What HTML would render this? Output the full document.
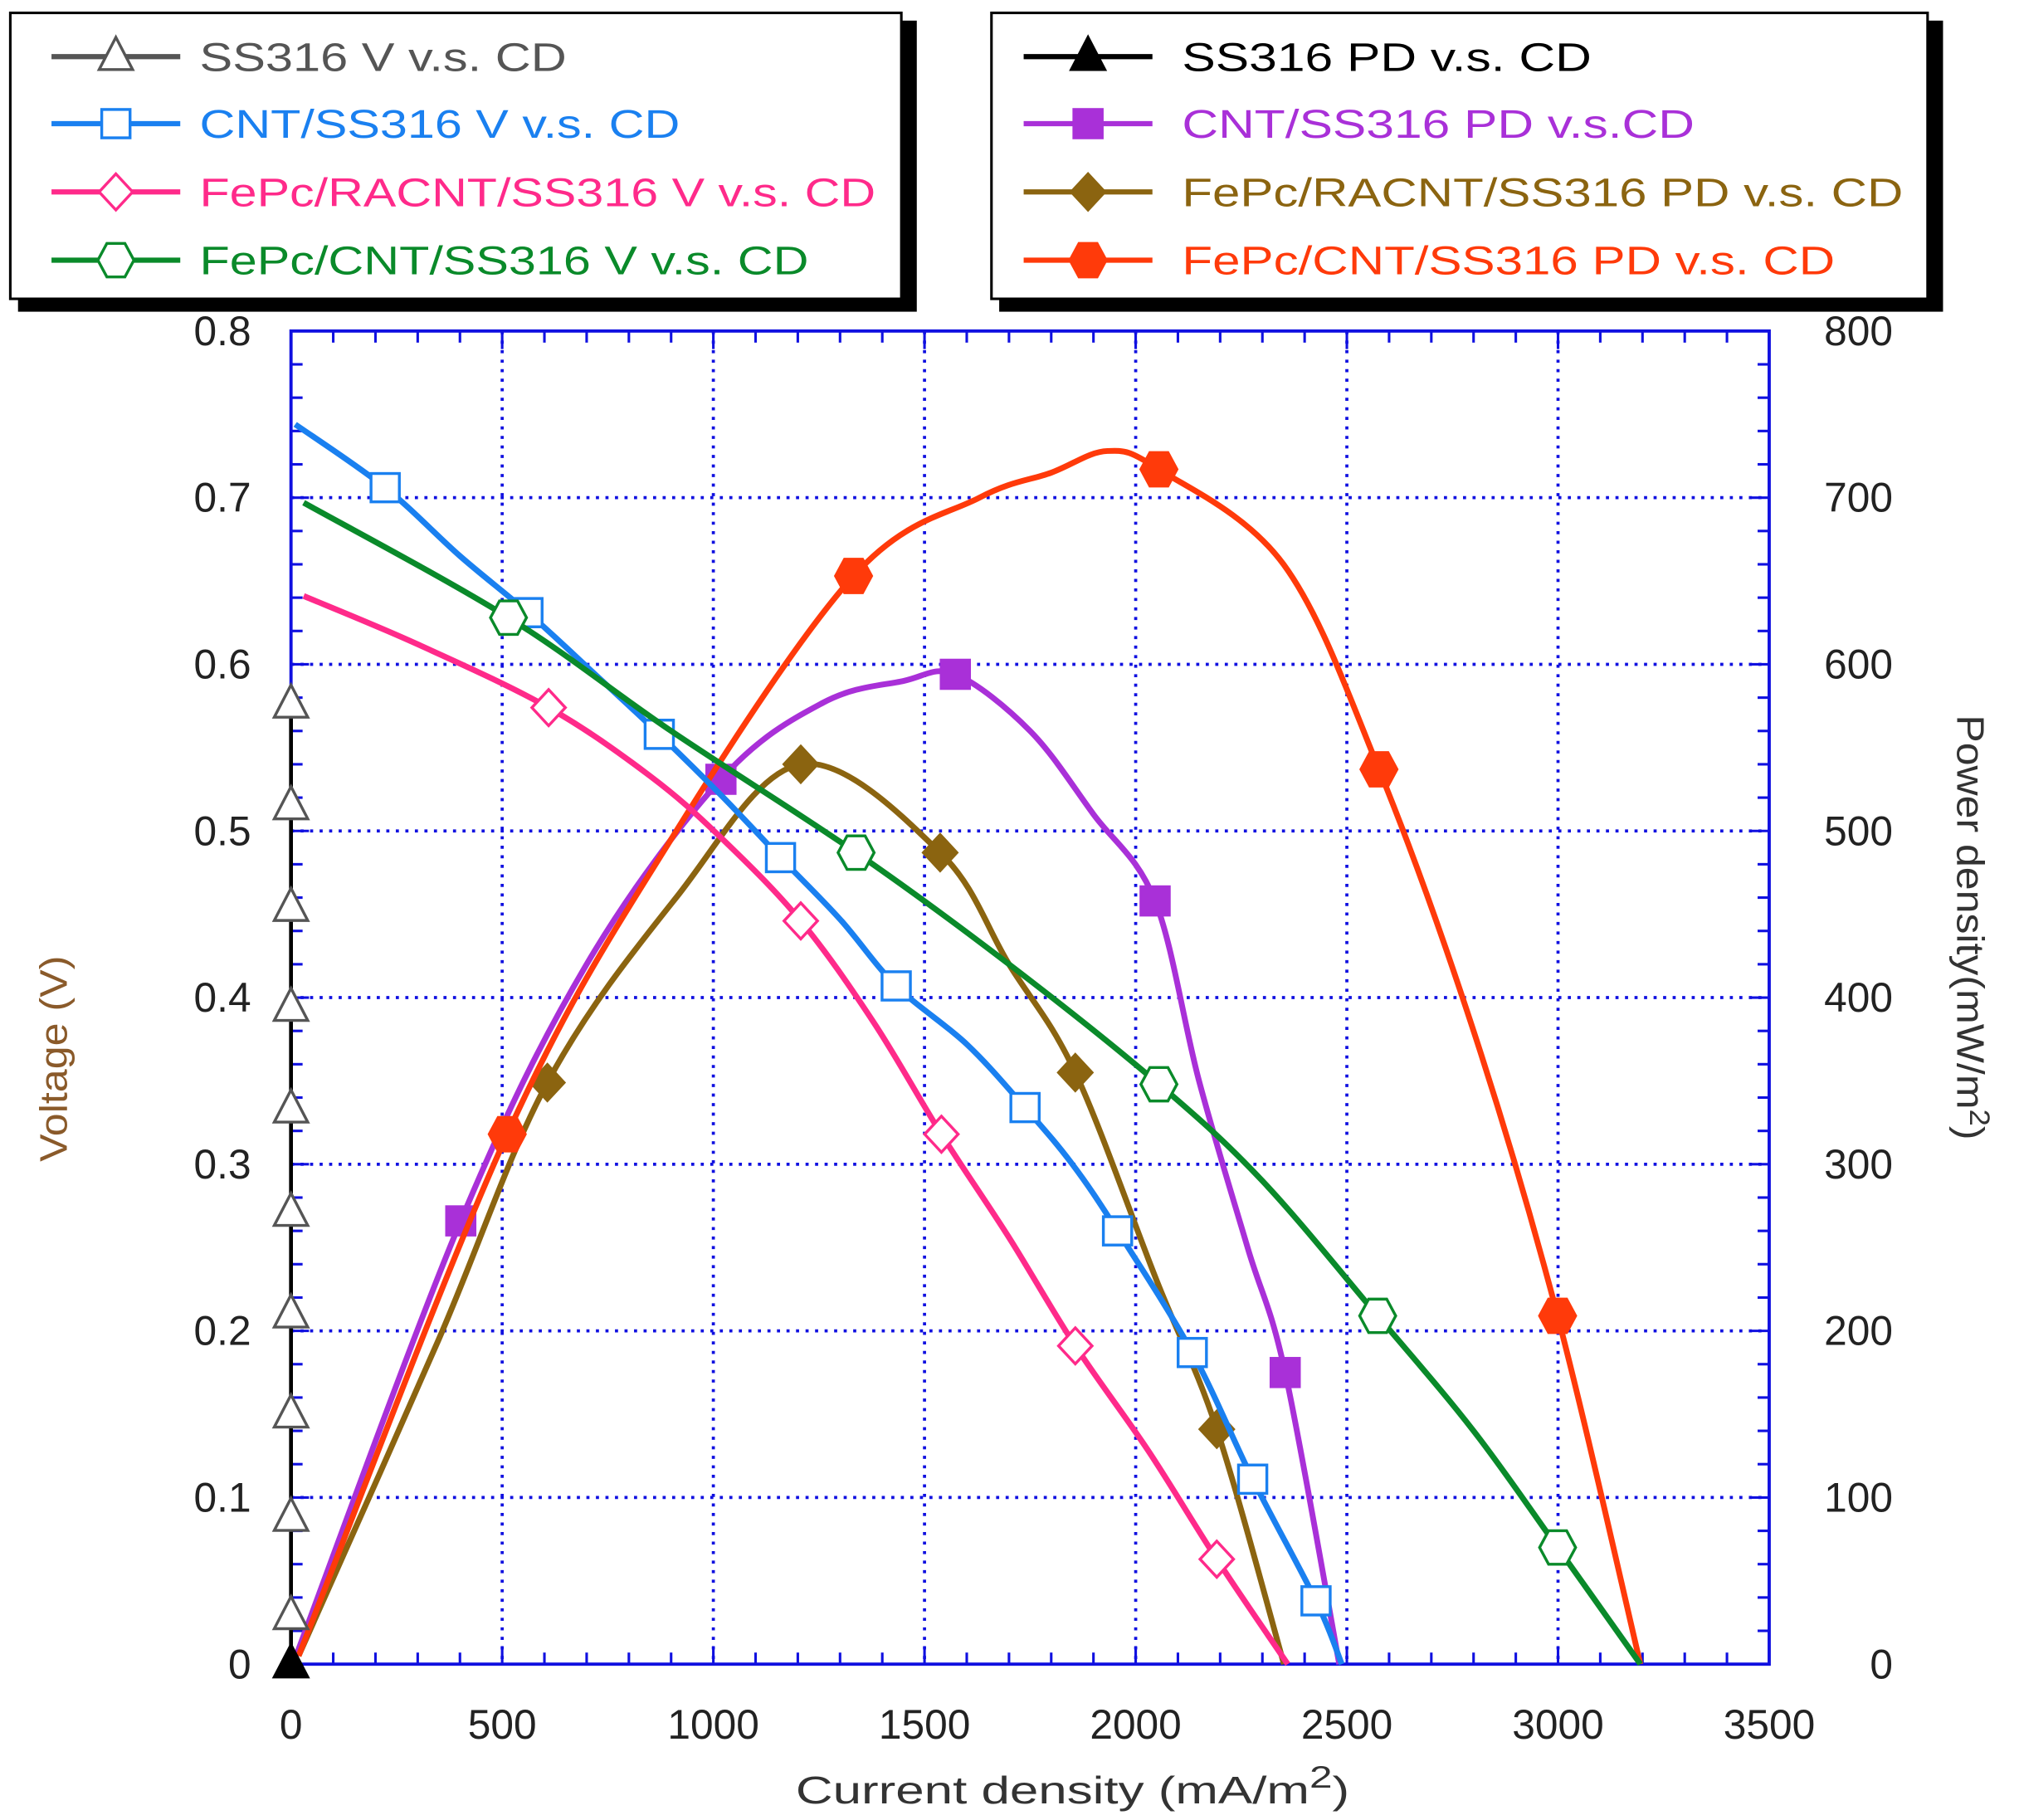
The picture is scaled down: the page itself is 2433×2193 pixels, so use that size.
<!DOCTYPE html>
<html><head><meta charset="utf-8"><style>
html,body{margin:0;padding:0;background:#fff;}
svg{display:block;font-family:"Liberation Sans",sans-serif;}
</style></head><body>
<svg id="chart" width="2433" height="2193" viewBox="0 0 1568 1413" preserveAspectRatio="none" xmlns="http://www.w3.org/2000/svg">
<g id="legends">
  <rect x="14" y="16" width="698" height="226" fill="#000"/>
  <rect x="8" y="10" width="692" height="222" fill="#fff" stroke="#000" stroke-width="2"/>
  <rect x="776" y="16" width="733" height="226" fill="#000"/>
  <rect x="770" y="10" width="727" height="222" fill="#fff" stroke="#000" stroke-width="2"/>
</g>
<g id="plot"></g>
<text x="0" y="0" transform="translate(52,822) rotate(-90)" text-anchor="middle" font-size="30" fill="#8a5a2a" textLength="160" lengthAdjust="spacingAndGlyphs">Voltage (V)</text>
<text x="0" y="0" transform="translate(1520,720) rotate(90)" text-anchor="middle" font-size="30" fill="#333" textLength="330" lengthAdjust="spacingAndGlyphs">Power density(mW/m<tspan dy="-10" font-size="22">2</tspan><tspan dy="10">)</tspan></text>
<text x="618" y="1400" font-size="30" fill="#333" textLength="430" lengthAdjust="spacingAndGlyphs">Current density (mA/m<tspan dy="-12" font-size="24">2</tspan><tspan dy="12">)</tspan></text>
</svg>
<script>
const xTicks=[0,500,1000,1500,2000,2500,3000,3500];
const yTicks=[0,0.1,0.2,0.3,0.4,0.5,0.6,0.7,0.8];
const y2Ticks=[0,100,200,300,400,500,600,700,800];
// Voltage series
const cntVx=[10,223,400,561,720,872,1020,1159,1300,1433,1600,1738,1850,1957,2134,2277,2427,2488];
const cntVy=[0.744,0.706,0.665,0.631,0.594,0.558,0.521,0.484,0.447,0.407,0.372,0.334,0.300,0.260,0.187,0.111,0.038,0];
const cntVm=[223,561,872,1159,1433,1738,1957,2134,2277,2427];
const racVx=[30,300,610,850,1018,1207,1380,1540,1700,1857,2030,2192,2360];
const racVy=[0.641,0.612,0.574,0.533,0.496,0.446,0.385,0.318,0.256,0.191,0.128,0.063,0];
const racVm=[610,1207,1540,1857,2192];
const fcVx=[30,515,900,1338,1700,2055,2300,2573,2800,2999,3195];
const fcVy=[0.697,0.628,0.560,0.487,0.420,0.348,0.290,0.209,0.140,0.070,0];
const fcVm=[515,1338,2055,2573,2999];
const ssVx=[0,0,0,0,0,0,0,0,0,0];
const ssVy=[0.029,0.088,0.150,0.210,0.271,0.333,0.394,0.454,0.515,0.576];
// Power density series
const cntPx=[12,402,700,1018,1260,1450,1573,1750,1900,2046,2150,2265,2354,2482];
const cntPy=[5,266,420,531,577,590,594,560,510,458,350,250,175,0];
const cntPm=[402,1018,1573,2046,2354];
const racPx=[18,350,607,912,1207,1537,1700,1857,2050,2192,2351];
const racPy=[5,195,349,460,540,487,420,355,230,141,0];
const racPm=[607,1207,1537,1857,2192];
const fcPx=[18,512,900,1332,1630,1800,1933,2055,2350,2576,2800,2999,3195];
const fcPy=[5,318,495,653,700,715,728,717,660,537,380,209,0];
const fcPm=[512,1332,2055,2576,2999];
const ssPx=[0];
const ssPy=[0];

const L=226,R=1374,T=257,B=1292;
const X=v=>L+v/3500*(R-L);
const Y=v=>B-v/0.8*(B-T);
const Y2=v=>B-v/800*(B-T);
const NS='http://www.w3.org/2000/svg';
const plot=document.getElementById('plot');
function mk(tag,attrs,parent){const e=document.createElementNS(NS,tag);for(const k in attrs)e.setAttribute(k,attrs[k]);(parent||plot).appendChild(e);return e;}
function interp(xs,ys,x){for(let i=0;i<xs.length-1;i++){if(x>=xs[i]&&x<=xs[i+1]){const t=(x-xs[i])/(xs[i+1]-xs[i]);return ys[i]+t*(ys[i+1]-ys[i]);}}return ys[ys.length-1];}
function smoothPath(pts){let d='M'+pts[0][0]+','+pts[0][1];
  for(let i=0;i<pts.length-1;i++){const p0=pts[i-1]||pts[i],p1=pts[i],p2=pts[i+1],p3=pts[i+2]||p2;
    const c1=[p1[0]+(p2[0]-p0[0])/6,p1[1]+(p2[1]-p0[1])/6],c2=[p2[0]-(p3[0]-p1[0])/6,p2[1]-(p3[1]-p1[1])/6];
    d+=` C${c1[0]},${c1[1]} ${c2[0]},${c2[1]} ${p2[0]},${p2[1]}`;}return d;}

// grid
xTicks.forEach(t=>{if(t>0&&t<3500){const g=mk('line',{x1:X(t),x2:X(t),y1:T,y2:B,stroke:'#1010e0','stroke-width':2.4,'stroke-dasharray':'2.4 5'});

}});
yTicks.forEach(t=>{if(t>0&&t<0.8){const g=mk('line',{x1:L,x2:R,y1:Y(t),y2:Y(t),stroke:'#1010e0','stroke-width':2.4,'stroke-dasharray':'2.4 5'});

}});
for(let v=0;v<=3500;v+=100){const maj=v%500===0;const h=maj?14:9;
mk('line',{x1:X(v),x2:X(v),y1:B,y2:B-h,stroke:'#1010e0','stroke-width':2});
mk('line',{x1:X(v),x2:X(v),y1:T,y2:T+h,stroke:'#1010e0','stroke-width':2});}
for(let i=0;i<=40;i++){const v=i*0.02;const maj=i%5===0;const h=maj?14:9;
mk('line',{x1:L,x2:L+h,y1:Y(v),y2:Y(v),stroke:'#1010e0','stroke-width':2});
mk('line',{x1:R,x2:R-h,y1:Y(v),y2:Y(v),stroke:'#1010e0','stroke-width':2});}
const frame=mk('rect',{x:L,y:T,width:R-L,height:B-T,fill:'none',stroke:'#1010e0','stroke-width':2.5});


xTicks.forEach(t=>{const e=mk('text',{x:X(t),y:1350,'text-anchor':'middle','font-size':32,fill:'#222'});e.textContent=t;

});
yTicks.forEach(t=>{const e=mk('text',{x:195,y:Y(t)+11,'text-anchor':'end','font-size':32,fill:'#222'});e.textContent=t===0?'0':t.toFixed(1);

});
y2Ticks.forEach(t=>{const e=mk('text',{x:1470,y:Y2(t)+11,'text-anchor':'end','font-size':32,fill:'#222'});e.textContent=t;

});

function marker(type,cx,cy,color,fill,parent){
  let e;
  if(type==='square') e=mk('rect',{x:cx-11,y:cy-11,width:22,height:22},parent);
  else if(type==='diamond') e=mk('polygon',{points:`${cx},${cy-14} ${cx+13},${cy} ${cx},${cy+14} ${cx-13},${cy}`},parent);
  else if(type==='circle') e=mk('polygon',{points:`${cx-7},${cy-13} ${cx+7},${cy-13} ${cx+14},${cy} ${cx+7},${cy+13} ${cx-7},${cy+13} ${cx-14},${cy}`},parent);
  else e=mk('polygon',{points:`${cx},${cy-15} ${cx+13},${cy+10} ${cx-13},${cy+10}`},parent);
  e.setAttribute('fill',fill);e.setAttribute('stroke',color);e.setAttribute('stroke-width',2.2);
  return e;
}
function series(name,xs,ys,ms,yf,color,type,fill){
  const g=mk('g',{});
  
  
  const p=mk('path',{d:smoothPath(xs.map((x,i)=>[X(x),yf(ys[i])])),fill:'none',stroke:color,'stroke-width':4.5,'stroke-linejoin':'round'},g);
  
  
  ms.forEach(mx=>{const m=marker(type,X(mx),yf(interp(xs,ys,mx)),color,fill,g);
  
  });
}
series('fepc-racnt-pd',racPx,racPy,racPm,Y2,'#8b6410','diamond','#8b6410');
series('cnt-pd',cntPx,cntPy,cntPm,Y2,'#a930d8','square','#a930d8');
series('fepc-cnt-pd',fcPx,fcPy,fcPm,Y2,'#ff3a0a','circle','#ff3a0a');
series('fepc-racnt-v',racVx,racVy,racVm,Y,'#ff2a8a','diamond','#fff');
series('cnt-v',cntVx,cntVy,cntVm,Y,'#1a80f0','square','#fff');
series('fepc-cnt-v',fcVx,fcVy,fcVm,Y,'#0a8a2a','circle','#fff');
const ssg=mk('g',{});


mk('line',{x1:X(0),x2:X(0),y1:Y(0),y2:Y(ssVy[ssVy.length-1]),stroke:'#000','stroke-width':3},ssg);
ssVy.forEach((v,i)=>{const m=marker('tri',X(ssVx[i]),Y(v),'#555','#fff',ssg);

});
ssPy.forEach((v,i)=>{const m=marker('tri',X(ssPx[i]),Y2(v),'#000','#000');

});

const leg=document.getElementById('legends');
const left=[['SS316 V v.s. CD','#555','tri','#fff',285],['CNT/SS316 V v.s. CD','#1a80f0','square','#fff',373],['FePc/RACNT/SS316 V v.s. CD','#ff2a8a','diamond','#fff',525],['FePc/CNT/SS316 V v.s. CD','#0a8a2a','circle','#fff',473]];
const right=[['SS316 PD v.s. CD','#000','tri','#000',318],['CNT/SS316 PD v.s.CD','#a930d8','square','#a930d8',398],['FePc/RACNT/SS316 PD v.s. CD','#8b6410','diamond','#8b6410',560],['FePc/CNT/SS316 PD v.s. CD','#ff3a0a','circle','#ff3a0a',507]];
const rows=[44,96,149,202];
function legend(items,x0,tx){items.forEach((it,i)=>{const y=rows[i];
  const g=mk('g',{},leg);
  
  
  mk('line',{x1:x0,x2:x0+100,y1:y,y2:y,stroke:it[1],'stroke-width':4},g);
  marker(it[2],x0+50,y,it[1],it[3],g);
  const t=mk('text',{x:tx,y:y+11,'font-size':31,fill:it[1],textLength:it[4],lengthAdjust:'spacingAndGlyphs'},g);t.textContent=it[0];
});}
legend(left,40,155);
legend(right,795,918);
</script>
</body></html>
